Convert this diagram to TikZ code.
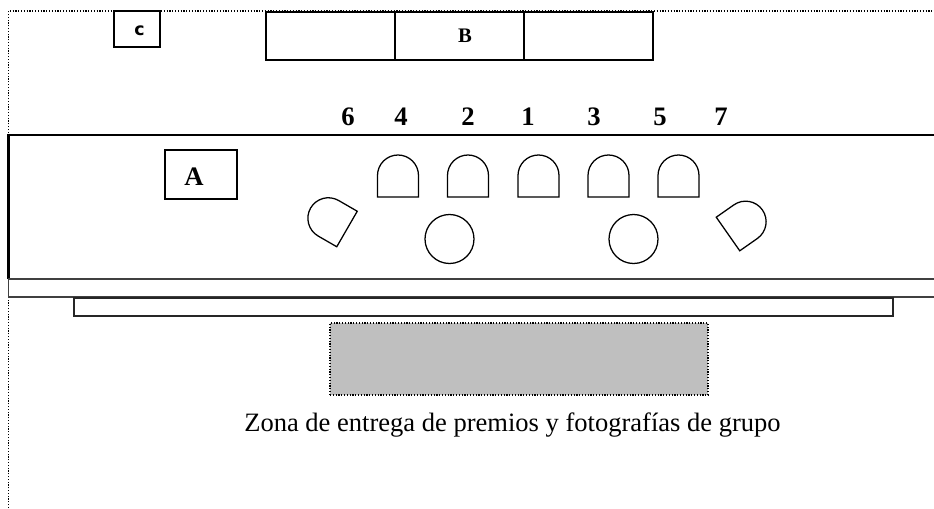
\documentclass[tikz,border=0pt]{standalone}
\usepackage{fontspec}
\setmainfont{Liberation Serif}
\newfontfamily\dvs{DejaVu Sans}
\tikzset{
  x=0.75pt,y=-0.75pt,
  solidbox/.style={draw=black,line width=0.95pt,rectangle,inner sep=0pt,outer sep=0pt},
  thinbox/.style={draw=black!85,line width=0.85pt,rectangle,inner sep=0pt,outer sep=0pt},
  seatshape/.style={draw=black,line width=0.95pt,line join=miter},
  ringshape/.style={draw=black,line width=0.95pt,circle,inner sep=0pt,outer sep=0pt,minimum size=36.75pt},
  dotline/.style={draw=black,line width=0.9pt,dash pattern=on 0.9pt off 1.2pt},
  greyline/.style={draw=black!75,line width=0.9pt},
  textlabel/.style={inner sep=0pt,outer sep=0pt,anchor=base},
  numlabel/.style={textlabel,font=\fontsize{20}{22}\selectfont\bfseries}
}
\newcommand{\seatpath}{(-20.5,0) -- (-20.5,-21.5) arc[start angle=180,end angle=360,radius=20.5] -- (20.5,0) -- cycle}
\begin{document}
\begin{tikzpicture}
\useasboundingbox (0,0) rectangle (934,508);
% outer dotted frame
\draw[dotline] (8.5,508) -- (8.5,11) -- (934,11);
% top boxes
\node[solidbox,minimum width=34.5pt,minimum height=27pt,fill=white] (boxc) at (137,29) {};
\node[textlabel,font=\dvs\fontsize{13}{14}\selectfont\bfseries] (labelc) at (139.5,35) {c};
\node[solidbox,minimum width=96.75pt,minimum height=36pt] (b1) at (330.5,36) {};
\node[solidbox,minimum width=96.75pt,minimum height=36pt] (b2) at (459.5,36) {};
\node[textlabel,font=\fontsize{15.5}{17}\selectfont\bfseries] (labelb) at (465,42) {B};
\node[solidbox,minimum width=96.75pt,minimum height=36pt] (b3) at (588.5,36) {};
% numbers
\foreach \n/\xx in {6/348,4/401,2/468,1/528,3/594,5/660,7/721}
  \node[numlabel] (n\n) at (\xx,125) {\n};
% stage
\draw[black,line width=1.6pt] (934,135) -- (8.5,135) -- (8.5,279);
\draw[greyline] (934,279) -- (8.5,279) -- (8.5,297) -- (934,297);
% lower bar and grey area
\node[thinbox,minimum width=614.25pt,minimum height=13.5pt,anchor=north west] (bar) at (74,298) {};
\node[dotline,rectangle,fill=black!25,inner sep=0pt,outer sep=0pt,minimum width=283.5pt,minimum height=54pt,anchor=north west] (zone) at (330,323) {};
\node[textlabel,font=\fontsize{19.9}{22}\selectfont] (caption) at (512.5,431.5) {Zona de entrega de premios y fotografías de grupo};
% box A
\node[solidbox,minimum width=54pt,minimum height=36.75pt] (boxa) at (201,174.5) {};
\node[numlabel] (labela) at (194,185.5) {A};
% seats
\foreach \xx in {398,468,538.5,608.5,678.5}
  \draw[seatshape,shift={(\xx,197)}] \seatpath;
\draw[seatshape,shift={(347,229)},rotate=60] \seatpath;
\draw[seatshape,shift={(728,234)},rotate=-55] \seatpath;
% round tables
\node[ringshape] (t1) at (449.5,239) {};
\node[ringshape] (t2) at (633.5,239) {};
\end{tikzpicture}
\end{document}
